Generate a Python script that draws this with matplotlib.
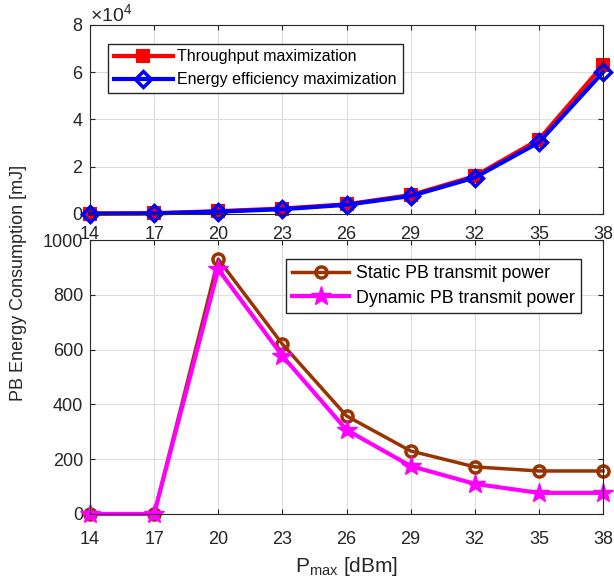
import numpy as np
import matplotlib as mpl
mpl.use('Agg')
import matplotlib.pyplot as plt
from matplotlib.ticker import ScalarFormatter

plt.rcParams['font.family'] = ['Liberation Sans', 'DejaVu Sans']
plt.rcParams['mathtext.fontset'] = 'custom'
plt.rcParams['mathtext.rm'] = 'Liberation Sans'

pmax = [14, 17, 20, 23, 26, 29, 32, 35, 38]

# BS energy (top panel)
thr_max = [200, 300, 1200, 2300, 4100, 8000, 16000, 31500, 63000]
ee_max = [150, 250, 1000, 2000, 3900, 7600, 15400, 30300, 60000]

# PB energy (bottom panel)
static_pb = [0, 0, 930, 620, 358, 230, 172, 157, 157]
dynamic_pb = [0, 0, 893, 577, 307, 175, 110, 77, 77]

tick_col = '#262626'

fig = plt.figure(figsize=(6.14, 5.84), dpi=100)
ax1 = fig.add_axes([0.1466, 0.6336, 0.8355, 0.3236])
ax2 = fig.add_axes([0.1466, 0.1199, 0.8355, 0.4691])

ax1.plot(pmax, thr_max, color='red', lw=3, marker='s', ms=8, mfc='red', mew=1.5,
         label='Throughput maximization')
ax1.plot(pmax, ee_max, color='blue', lw=3, marker='D', ms=8, mfc='none', mew=2.5,
         label='Energy efficiency maximization')
ax1.set_ylim(0, 80000)
ax1.set_yticks([0, 20000, 40000, 60000, 80000])
fmt = ScalarFormatter(useMathText=True)
fmt.set_powerlimits((0, 0))
ax1.yaxis.set_major_formatter(fmt)
ax1.legend(loc='upper left', bbox_to_anchor=(0.035, 0.9), fontsize=11.5, fancybox=False,
           edgecolor=tick_col, framealpha=1, borderpad=0.35, handlelength=3.7,
           labelspacing=0.5, handletextpad=0.3, borderaxespad=0)

ax2.plot(pmax, static_pb, color='#993300', lw=2.5, marker='o', ms=8, mfc='none', mew=2.5,
         label='Static PB transmit power')
ax2.plot(pmax, dynamic_pb, color='#ff00ff', lw=3, marker='*', ms=15,
         label='Dynamic PB transmit power')
ax2.set_ylim(0, 1000)
ax2.set_yticks([0, 200, 400, 600, 800, 1000])
ax2.legend(loc='upper right', bbox_to_anchor=(0.958, 0.93), fontsize=12.8, fancybox=False,
           edgecolor=tick_col, framealpha=1, borderpad=0.35, handlelength=3.2,
           labelspacing=0.4, handletextpad=0.4, borderaxespad=0)
ax2.set_xlabel(r'P$_{\mathrm{max}}$ [dBm]', fontsize=15, color=tick_col, labelpad=5)

for ax in (ax1, ax2):
    ax.set_xlim(14, 38)
    ax.set_xticks(pmax)
    ax.grid(True, color='#dddddd', lw=0.8)
    ax.set_axisbelow(True)
    ax.tick_params(direction='in', labelsize=13, colors=tick_col, top=True, right=True,
                   pad=5)
    for s in ax.spines.values():
        s.set_color(tick_col)
        s.set_linewidth(0.8)
    for line in ax.get_lines():
        line.set_clip_on(False)
ax1.tick_params(axis='x', pad=9)
ax2.tick_params(axis='x', pad=12)
ax1.yaxis.get_offset_text().set_fontsize(14)
ax1.yaxis.get_offset_text().set_color(tick_col)

fig.text(0.03, 0.515, 'PB Energy Consumption [mJ]', rotation=90, fontsize=13,
         color=tick_col, ha='center', va='center')

fig.savefig('out.png', dpi=100)
